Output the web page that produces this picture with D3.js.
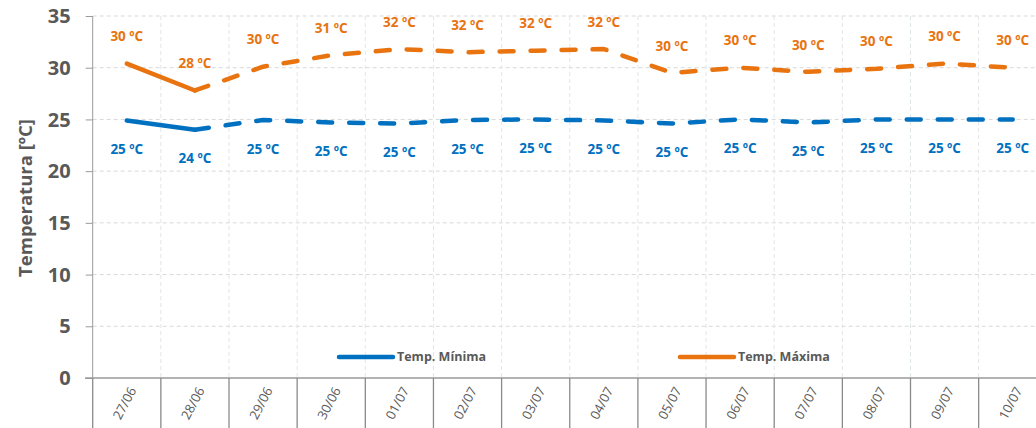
<!DOCTYPE html>
<html><head><meta charset="utf-8">
<script src="https://cdn.jsdelivr.net/npm/d3@7"></script>
<style>
html,body{margin:0;padding:0;background:#fff;overflow:hidden}
svg{display:block}
svg text{font-family:"Open Sans",Lato,sans-serif}
</style></head>
<body><svg id="c" width="1036" height="428"></svg>
<script>
const categories = ["27/06","28/06","29/06","30/06","01/07","02/07","03/07","04/07","05/07","06/07","07/07","08/07","09/07","10/07"];
const tempMax = [30.4,27.8,30.1,31.2,31.8,31.5,31.65,31.8,29.5,30.0,29.6,29.9,30.4,30.0];
const tempMin = [24.9,24.0,24.95,24.7,24.6,24.95,25.0,24.9,24.6,25.0,24.7,25.0,25.0,25.0];
const maxLabels = ["30 ºC","28 ºC","30 ºC","31 ºC","32 ºC","32 ºC","32 ºC","32 ºC","30 ºC","30 ºC","30 ºC","30 ºC","30 ºC","30 ºC"];
const minLabels = ["25 ºC","24 ºC","25 ºC","25 ºC","25 ºC","25 ºC","25 ºC","25 ºC","25 ºC","25 ºC","25 ºC","25 ºC","25 ºC","25 ºC"];
const yTicks = [0,5,10,15,20,25,30,35];
const seriesNames = ["Temp. Mínima","Temp. Máxima"];
const colMin = "#0070C0", colMax = "#E8730F";
const FONT = '"Open Sans", Lato, sans-serif';

const svg = d3.select("#c");
const mLeft = 92.7, mBottom = 378, mTop = 16, bw = 68.15;
const x = d3.scaleBand().domain(categories).range([mLeft, mLeft + bw*categories.length]).padding(0);
const y = d3.scaleLinear().domain([0,35]).range([mBottom, mTop]);

// horizontal grid
svg.append("g").selectAll("line").data(yTicks.filter(d=>d>0)).join("line")
  .attr("x1", mLeft).attr("x2", 1036).attr("y1", d=>y(d)).attr("y2", d=>y(d))
  .attr("stroke","#d9d9d9").attr("stroke-width",1).attr("stroke-dasharray","4,3");
// vertical grid
svg.append("g").selectAll("line").data(categories.slice(1)).join("line")
  .attr("x1", d=>x(d)).attr("x2", d=>x(d)).attr("y1", mTop).attr("y2", mBottom)
  .attr("stroke","#dfe6ea").attr("stroke-width",1).attr("stroke-dasharray","4,3");

// y axis
const yAxis = d3.axisLeft(y).tickValues(yTicks).tickSize(7).tickPadding(15);
const gy = svg.append("g").attr("transform",`translate(${mLeft},0)`).call(yAxis).attr("font-family",FONT);
gy.select(".domain").attr("stroke","#9a9a9a").attr("d",`M0,${mTop}V${mBottom}`);
gy.selectAll(".tick line").attr("stroke","#9a9a9a");
gy.selectAll(".tick text").attr("fill","#595959").attr("font-size",20).attr("font-weight","bold").attr("dy","0.33em");

// x axis
svg.append("line").attr("x1",85).attr("x2",1036).attr("y1",mBottom).attr("y2",mBottom).attr("stroke","#9a9a9a").attr("stroke-width",1.3);
svg.append("g").selectAll("line").data(categories).join("line")
  .attr("x1", d=>x(d)).attr("x2", d=>x(d)).attr("y1", mBottom).attr("y2", 428)
  .attr("stroke","#8a8a8a").attr("stroke-width",1.3);
svg.append("g").selectAll("text").data(categories).join("text")
  .attr("transform", d=>`translate(${x(d)+x.bandwidth()/2+6},${mBottom+10}) rotate(-62)`)
  .attr("text-anchor","end").attr("dy","0.35em").attr("font-family",FONT)
  .attr("font-size",13).attr("fill","#595959").text(d=>d);

// y title
svg.append("text").attr("transform",`translate(26,198) rotate(-90)`).attr("text-anchor","middle").attr("dy","0.35em")
  .attr("font-family",FONT).attr("font-size",18.5).attr("font-weight","bold").attr("fill","#595959").text("Temperatura [ºC]");

// lines
const cx = i => x(categories[i]) + x.bandwidth()/2;
const line = d3.line().x(d=>cx(d.i)).y(d=>y(d.v));
function drawSeries(vals, col){
  const pts = vals.map((v,i)=>({i,v}));
  svg.append("path").attr("d", line(pts.slice(0,2))).attr("fill","none").attr("stroke",col)
    .attr("stroke-width",4.5).attr("stroke-linecap","round").attr("stroke-linejoin","round");
  svg.append("path").attr("d", line(pts.slice(1))).attr("fill","none").attr("stroke",col)
    .attr("stroke-width",4.5).attr("stroke-linecap","round").attr("stroke-linejoin","round")
    .attr("stroke-dasharray","14,17");
}
drawSeries(tempMin, colMin);
drawSeries(tempMax, colMax);

// data labels
svg.append("g").selectAll("text").data(maxLabels).join("text")
  .attr("x",(d,i)=>cx(i)).attr("y",(d,i)=>y(tempMax[i])-27).attr("dy","0.35em").attr("font-family",FONT)
  .attr("text-anchor","middle").attr("font-size",13.5).attr("font-weight","bold").attr("fill",colMax).text(d=>d);
svg.append("g").selectAll("text").data(minLabels).join("text")
  .attr("x",(d,i)=>cx(i)).attr("y",(d,i)=>y(tempMin[i])+29).attr("dy","0.35em").attr("font-family",FONT)
  .attr("text-anchor","middle").attr("font-size",13.5).attr("font-weight","bold").attr("fill",colMin).text(d=>d);

// legend
const legend = [{name:seriesNames[0], col:colMin, x:339},{name:seriesNames[1], col:colMax, x:680}];
const lg = svg.append("g").selectAll("g").data(legend).join("g").attr("transform",d=>`translate(${d.x},357)`);
lg.append("line").attr("x1",0).attr("x2",54).attr("stroke",d=>d.col).attr("stroke-width",4.5).attr("stroke-linecap","round");
lg.append("text").attr("x",58).attr("dy","0.35em").attr("font-family",FONT).attr("font-size",12.5).attr("font-weight","bold").attr("fill","#595959").text(d=>d.name);
</script></body></html>
